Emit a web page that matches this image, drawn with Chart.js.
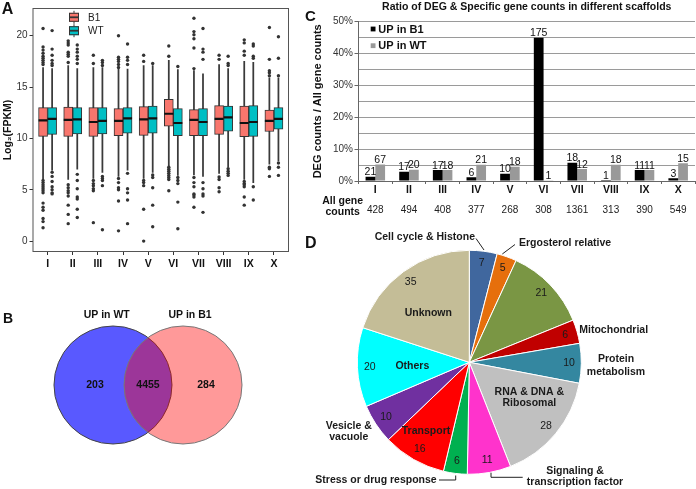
<!DOCTYPE html>
<html>
<head>
<meta charset="utf-8">
<script src="https://cdn.jsdelivr.net/npm/chart.js@4.4.1/dist/chart.umd.min.js"></script>
<style>
  body { margin: 0; background: #fff; }
  #fig { position: relative; width: 696px; height: 489px; overflow: hidden; font-family: 'Liberation Sans', Arial, sans-serif; }
  #fig canvas { position: absolute; }
  .tag { position: absolute; font-weight: bold; line-height: 1; color: #111; }
</style>
</head>
<body>
<div id="fig">
  <canvas id="boxChart" width="300" height="276" style="left:0;top:0"></canvas>
  <canvas id="vennChart" width="300" height="199" style="left:0;top:290px"></canvas>
  <canvas id="degChart" width="391" height="222" style="left:305px;top:0"></canvas>
  <canvas id="pieChart" width="396" height="259" style="left:300px;top:230px"></canvas>
  <div class="tag" style="left:1.7px;top:1.2px;font-size:16px">A</div>
  <div class="tag" style="left:3px;top:311px;font-size:14px">B</div>
  <div class="tag" style="left:305px;top:8px;font-size:15px">C</div>
  <div class="tag" style="left:305px;top:234.6px;font-size:16px">D</div>
</div>
<script>
const FONT = "'Liberation Sans', Arial, sans-serif";
Chart.defaults.font.family = FONT;
Chart.defaults.color = '#222';
Chart.defaults.animation = false;
Chart.defaults.events = [];
Chart.defaults.layout.autoPadding = false;
Chart.defaults.plugins.legend.display = false;
Chart.defaults.plugins.tooltip.enabled = false;

const scaffolds = ['I', 'II', 'III', 'IV', 'V', 'VI', 'VII', 'VIII', 'IX', 'X'];
const groups = ['B1', 'WT'];

// A: log2(FPKM) box statistics per scaffold
const b1Low    = [6.0, 6.0, 6.1, 6.3, 6.1, 7.3, 6.45, 6.6, 6.0, 7.5];
const b1Q1     = [10.2, 10.2, 10.2, 10.26, 10.3, 11.2, 10.26, 10.4, 10.16, 10.67];
const b1Median = [11.76, 11.8, 11.6, 11.7, 11.86, 12.4, 11.8, 11.9, 11.5, 11.7];
const b1Q3     = [13.0, 13.05, 13.0, 12.9, 13.1, 13.8, 12.8, 13.2, 13.14, 12.76];
const b1High   = [16.9, 17.1, 16.9, 16.8, 17.1, 17.6, 16.6, 17.2, 17.5, 15.9];
const b1Outliers = [
  [20.7, 18.9, 18.6, 18.3, 18.0, 17.8, 17.6, 17.4, 17.2, 5.9, 5.7, 5.5, 5.3, 5.1, 4.9, 4.7, 3.7, 3.3, 3.0, 2.2, 1.9, 1.3],
  [19.5, 19.3, 19.1, 18.4, 18.2, 18.0, 17.4, 5.5, 5.2, 4.9, 4.7, 4.4, 3.5, 2.6, 1.7],
  [18.1, 17.3, 5.9, 5.6, 5.4, 5.1, 4.9, 1.8],
  [20.0, 17.9, 17.7, 17.5, 17.2, 16.9, 6.1, 5.7, 5.2, 5.0, 3.9, 1.0],
  [18.1, 17.5, 5.9, 5.7, 5.4, 3.1, 0.0],
  [19.0, 18.0, 7.2, 7.0, 6.8, 6.6, 6.4, 6.2, 6.0, 4.9],
  [21.7, 20.4, 20.1, 19.7, 18.8, 16.8, 6.2, 5.7, 5.3, 4.6, 4.5, 4.3, 3.3],
  [18.1, 17.7, 6.25, 6.0, 5.2, 4.8],
  [19.6, 19.3, 18.5, 18.1, 5.8, 5.6, 5.5, 5.3, 4.3, 3.5],
  [20.8, 17.7, 16.6, 16.4, 16.1, 7.2, 7.05, 6.3]
];
const wtLow    = [6.9, 7.0, 6.7, 6.9, 6.7, 6.4, 6.3, 7.2, 5.7, 7.8];
const wtQ1     = [10.4, 10.45, 10.45, 10.5, 10.5, 10.26, 10.26, 10.7, 10.2, 10.9];
const wtMedian = [11.9, 11.86, 11.7, 11.96, 11.96, 11.5, 11.6, 12.05, 11.6, 11.9];
const wtQ3     = [13.0, 13.0, 13.0, 13.0, 13.14, 12.9, 12.9, 13.14, 13.2, 13.0];
const wtHigh   = [16.8, 16.8, 16.9, 16.75, 17.1, 16.7, 16.3, 16.8, 17.4, 15.9];
const wtOutliers = [
  [20.5, 18.7, 18.1, 17.6, 17.3, 17.1, 6.7, 6.3, 5.8, 5.3, 5.0, 4.7, 4.6],
  [19.1, 18.7, 18.4, 18.0, 17.7, 17.3, 6.5, 5.9, 5.1, 4.3, 4.1, 3.1, 2.3],
  [17.6, 17.4, 17.1, 6.3, 6.1, 5.9, 5.4, 1.1],
  [19.2, 17.9, 17.6, 17.2, 6.6, 5.1, 4.7, 4.0, 1.7],
  [17.3, 6.45, 6.2, 5.2, 3.5, 1.4],
  [17.0, 6.2, 5.9, 5.6, 3.8, 1.2],
  [20.7, 18.7, 18.4, 17.7, 5.7, 5.1, 4.6, 4.4, 2.8],
  [18.0, 17.3, 17.1, 7.05, 6.8, 6.6, 6.4],
  [19.2, 19.0, 18.0, 17.8, 5.3, 4.0],
  [19.9, 17.8, 16.1, 7.6, 7.2, 6.4]
];
const fpkmTicks = [0, 5, 10, 15, 20];

// B: venn
const vennSets = ['UP in WT', 'UP in B1'];
const vennCounts = [203, 4455, 284]; // WT only, shared, B1 only

// C: DEG ratio per scaffold (percent) and counts
const degRatioB1 = [1.37, 2.9, 3.45, 1.15, 2.25, 45.0, 5.7, 0.3, 3.45, 0.85];
const degRatioWT = [5.15, 3.5, 3.45, 5.1, 4.45, 0.2, 3.75, 5.1, 3.45, 5.6];
const degCountB1 = [21, 17, 17, 6, 10, 175, 18, 1, 11, 3];
const degCountWT = [67, 20, 18, 21, 18, 1, 12, 18, 11, 15];
const allGeneCounts = [428, 494, 408, 377, 268, 308, 1361, 313, 390, 549];
const ratioTicks = [0, 5, 10, 15, 20, 25, 30, 35, 40, 45, 50];

// D: functional categories of the 175 genes
const categories = ['Cell cycle & Histone', 'Ergosterol relative', '', 'Mitochondrial', 'Protein\nmetabolism',
  'RNA & DNA &\nRibosomal', 'Signaling &\ntranscription factor', 'Stress or drug response', 'Transport',
  'Vesicle &\nvacuole', 'Others', 'Unknown'];
const categoryCounts = [7, 5, 21, 6, 10, 28, 11, 6, 16, 10, 20, 35];
const sliceColors = ['#40679e', '#e66f0c', '#7a9644', '#c00000', '#3487a0', '#c0c0c0', '#ff33cc',
  '#00b050', '#ff0000', '#7030a0', '#00ffff', '#c4bd97'];

// ---------- A: boxplots ----------
const boxColors = ['#F8766D', '#00BFC4'];
const dodge = [-0.18, 0.18];
const boxStats = [
  {low: b1Low, q1: b1Q1, med: b1Median, q3: b1Q3, high: b1High, out: b1Outliers},
  {low: wtLow, q1: wtQ1, med: wtMedian, q3: wtQ3, high: wtHigh, out: wtOutliers}
];
const boxDatasets = [];
boxStats.forEach((s, g) => {
  const xs = scaffolds.map((_, i) => i + 1 + dodge[g]);
  boxDatasets.push({type: 'bar', data: xs.map((x, i) => ({x, y: [s.low[i], s.high[i]]})),
    backgroundColor: '#3a3a3a', maxBarThickness: 1.1, barPercentage: 1, categoryPercentage: 1,
    grouped: false, order: 4});
  boxDatasets.push({type: 'bar', data: xs.map((x, i) => ({x, y: [s.q1[i], s.q3[i]]})),
    backgroundColor: boxColors[g], borderColor: '#333', borderWidth: 1, borderSkipped: false,
    maxBarThickness: 9, barPercentage: 1, categoryPercentage: 1, grouped: false, order: 3});
  boxDatasets.push({type: 'scatter', data: xs.map((x, i) => ({x, y: s.med[i]})),
    pointStyle: 'line', pointRadius: 4.5, pointBorderColor: '#111', pointBorderWidth: 2.2, order: 2});
  boxDatasets.push({type: 'scatter', data: xs.flatMap((x, i) => s.out[i].map(y => ({x, y}))),
    pointRadius: 1.7, pointBackgroundColor: '#333', pointBorderWidth: 0, order: 1});
});

const boxDecor = {
  id: 'boxDecor',
  afterDraw(chart) {
    const {ctx, chartArea: a} = chart;
    ctx.save();
    ctx.strokeStyle = '#555';
    ctx.lineWidth = 1;
    ctx.strokeRect(a.left + 0.5, a.top + 0.5, a.width - 1, a.height - 1);
    groups.forEach((g, i) => {
      const x = a.left + 36.5, y = a.top + 9.3 + i * 13.4;
      ctx.strokeStyle = '#333';
      ctx.lineWidth = 1;
      ctx.beginPath(); ctx.moveTo(x + 5, y - 6.5); ctx.lineTo(x + 5, y + 6.5); ctx.stroke();
      ctx.fillStyle = boxColors[i];
      ctx.fillRect(x, y - 4.5, 10, 9);
      ctx.strokeRect(x + 0.5, y - 4, 9, 8);
      ctx.lineWidth = 1.8;
      ctx.beginPath(); ctx.moveTo(x, y); ctx.lineTo(x + 10, y); ctx.stroke();
      ctx.fillStyle = '#222';
      ctx.font = '10px ' + FONT;
      ctx.textBaseline = 'middle';
      ctx.fillText(g, x + 19, y + 0.5);
    });
    ctx.restore();
  }
};

new Chart(document.getElementById('boxChart'), {
  type: 'scatter',
  data: {datasets: boxDatasets},
  options: {
    responsive: false,
    layout: {padding: {top: 4, right: 11, left: 0, bottom: 0}},
    scales: {
      x: {
        type: 'linear', min: 0.4, max: 10.6, offset: false,
        afterFit: s => { s.height = 24; },
        afterBuildTicks: s => { s.ticks = scaffolds.map((_, i) => ({value: i + 1})); },
        ticks: {callback: v => scaffolds[v - 1], font: {size: 10.5, weight: 'bold'}, color: '#111',
          padding: 2.7, maxRotation: 0, autoSkip: false},
        grid: {offset: false, drawOnChartArea: false, tickLength: 3, color: '#333'},
        border: {display: false}
      },
      y: {
        min: -1.06, max: 22.7,
        afterFit: s => { s.width = 32.5; },
        afterBuildTicks: s => { s.ticks = fpkmTicks.map(v => ({value: v})); },
        ticks: {font: {size: 10}, color: '#333', padding: 2},
        grid: {drawOnChartArea: false, tickLength: 3, color: '#333'},
        border: {display: false},
        title: {display: true, text: 'Log₂(FPKM)', font: {size: 10.5, weight: 'bold'}, color: '#111',
          padding: {top: 1.5, bottom: 0}}
      }
    }
  },
  plugins: [boxDecor]
});

// ---------- B: venn ----------
const vennLabels = {
  id: 'vennLabels',
  afterDatasetsDraw(chart) {
    const {ctx} = chart;
    const pts = chart.getDatasetMeta(0).data;
    const r = chart.data.datasets[0].pointRadius;
    ctx.save();
    ctx.font = 'bold 10.5px ' + FONT;
    ctx.fillStyle = '#111';
    ctx.textAlign = 'center';
    ctx.textBaseline = 'middle';
    ctx.fillText(vennSets[0], pts[0].x - 6.3, pts[0].y - r - 11);
    ctx.fillText(vennSets[1], pts[1].x + 7, pts[1].y - r - 11);
    ctx.fillText(vennCounts[0], pts[0].x - 18, pts[0].y);
    ctx.fillText(vennCounts[1], (pts[0].x + pts[1].x) / 2, pts[0].y);
    ctx.fillText(vennCounts[2], pts[1].x + 23, pts[1].y);
    ctx.restore();
  }
};

new Chart(document.getElementById('vennChart'), {
  type: 'scatter',
  data: {datasets: [{
    data: vennSets.map((_, i) => ({x: i, y: 0})),
    pointRadius: 59,
    pointBackgroundColor: ['rgba(0,0,255,0.65)', 'rgba(255,0,0,0.4)'],
    pointBorderColor: ['#444', '#777'],
    pointBorderWidth: 1,
    clip: false
  }]},
  options: {
    responsive: false,
    layout: {padding: {left: 0, right: 4, top: 0, bottom: 9}},
    scales: {x: {display: false, min: -1.614, max: 2.614}, y: {display: false, min: -1, max: 1}}
  },
  plugins: [vennLabels]
});

// ---------- C: DEG ratio bars ----------
const degDecor = {
  id: 'degDecor',
  afterDraw(chart) {
    const {ctx, chartArea: a} = chart;
    ctx.save();
    ctx.fillStyle = '#111';
    ctx.textAlign = 'center';
    ctx.textBaseline = 'alphabetic';
    ctx.font = '10.5px ' + FONT;
    chart.data.datasets.forEach((ds, d) => {
      chart.getDatasetMeta(d).data.forEach((bar, i) => ctx.fillText(ds.counts[i], bar.x, bar.y - 1.5));
    });
    ctx.textBaseline = 'middle';
    ctx.font = 'bold 10.5px ' + FONT;
    ctx.fillText('Ratio of DEG & Specific gene counts in different scaffolds', (a.left + a.right) / 2, 6.7);
    const s2 = chart.scales.x2;
    ctx.fillText('All gene', 37.7, s2.top + 6.5);
    ctx.fillText('counts', 37.7, s2.top + 17);
    ctx.textAlign = 'left';
    ctx.font = 'bold 11px ' + FONT;
    chart.data.datasets.forEach((ds, d) => {
      const y = a.top + 7.3 + d * 16.7;
      ctx.fillStyle = ds.backgroundColor;
      ctx.fillRect(a.left + 12.2, y - 2.4, 4.8, 4.8);
      ctx.fillStyle = '#111';
      ctx.fillText(ds.label, a.left + 19.8, y + 0.5);
    });
    ctx.restore();
  }
};

new Chart(document.getElementById('degChart'), {
  type: 'bar',
  data: {
    labels: scaffolds,
    datasets: [
      {label: 'UP in B1', data: degRatioB1, backgroundColor: '#000', counts: degCountB1},
      {label: 'UP in WT', data: degRatioWT, backgroundColor: '#999', counts: degCountWT}
    ]
  },
  options: {
    responsive: false,
    layout: {padding: {top: 21.7, right: 1, left: 0, bottom: 0}},
    datasets: {bar: {categoryPercentage: 0.58, barPercentage: 1}},
    scales: {
      x: {
        weight: 0,
        afterFit: s => { s.height = 14; },
        ticks: {font: {size: 10.5, weight: 'bold'}, color: '#111', padding: 0},
        grid: {offset: true, drawOnChartArea: false, tickLength: 3, color: '#666'},
        border: {color: '#666'}
      },
      x2: {
        type: 'category', position: 'bottom', weight: 1, offset: true,
        labels: allGeneCounts.map(String),
        afterFit: s => { s.height = 27; },
        ticks: {font: {size: 10}, color: '#222', padding: 1},
        grid: {display: false},
        border: {display: false}
      },
      y: {
        min: 0, max: 50,
        afterFit: s => { s.width = 53.5; },
        afterBuildTicks: s => { s.ticks = ratioTicks.map(v => ({value: v})); },
        ticks: {callback: v => (v % 10 === 0 ? v + '%' : ''), font: {size: 10}, color: '#333', padding: 1.5},
        grid: {color: '#9a9a9a', tickLength: 4,
          tickColor: c => (c.tick && c.tick.value % 10 === 0 ? '#666' : 'rgba(0,0,0,0)')},
        border: {color: '#666'},
        title: {display: true, text: 'DEG counts / All gene counts', font: {size: 11, weight: 'bold'},
          color: '#111', padding: {top: 6.4, bottom: 0}}
      }
    }
  },
  plugins: [degDecor]
});

// ---------- D: pie ----------
const pieNameLayout = [
  {dx: 5.7, dy: -125, align: 'right', leader: [[6.7, -123.8], [14.7, -112.3]]},
  {dx: 49.7, dy: -119.6, align: 'left', leader: [[45.7, -117.8], [33, -108.3]]},
  null,
  {dx: 110, dy: -32.3, align: 'left'},
  {dx: 146.7, dy: -3, align: 'center', lh: 12.4},
  {dx: 60, dy: 30, align: 'center', lh: 10.4},
  {dx: 105.7, dy: 108.4, align: 'center', lh: 11.6, leader: [[21.7, 110.4], [21.7, 115], [53.4, 115]]},
  {dx: -32.6, dy: 117.7, align: 'right', leader: [[-30.3, 117.7], [-13.6, 117.7], [-13.6, 113.2]]},
  {dx: -43.3, dy: 68.4, align: 'center'},
  {dx: -120.5, dy: 63.7, align: 'center', lh: 10.7},
  {dx: -57, dy: 3.7, align: 'center'},
  {dx: -41, dy: -49, align: 'center'}
];

const pieLabels = {
  id: 'pieLabels',
  afterDatasetsDraw(chart) {
    const {ctx} = chart;
    const arcs = chart.getDatasetMeta(0).data;
    const cx = arcs[0].x, cy = arcs[0].y, r = arcs[0].outerRadius;
    ctx.save();
    ctx.textBaseline = 'middle';
    ctx.textAlign = 'center';
    ctx.fillStyle = '#1a1a1a';
    ctx.font = '10.5px ' + FONT;
    arcs.forEach((arc, i) => {
      const mid = (arc.startAngle + arc.endAngle) / 2;
      ctx.fillText(categoryCounts[i], cx + Math.cos(mid) * r * 0.89, cy + Math.sin(mid) * r * 0.89);
    });
    ctx.font = 'bold 10.5px ' + FONT;
    ctx.strokeStyle = '#222';
    ctx.lineWidth = 1;
    pieNameLayout.forEach((p, i) => {
      if (!p) return;
      ctx.textAlign = p.align;
      categories[i].split('\n').forEach((line, k) => {
        ctx.fillText(line, cx + p.dx, cy + p.dy + k * (p.lh || 0));
      });
      if (p.leader) {
        ctx.beginPath();
        p.leader.forEach(([lx, ly], k) => (k ? ctx.lineTo(cx + lx, cy + ly) : ctx.moveTo(cx + lx, cy + ly)));
        ctx.stroke();
      }
    });
    ctx.restore();
  }
};

new Chart(document.getElementById('pieChart'), {
  type: 'pie',
  data: {
    labels: categories,
    datasets: [{data: categoryCounts, backgroundColor: sliceColors, borderColor: '#fff', borderWidth: 1}]
  },
  options: {
    responsive: false,
    radius: 112,
    layout: {padding: {left: 57.3, top: 20.3, right: 114.7, bottom: 14.7}}
  },
  plugins: [pieLabels]
});
</script>
</body>
</html>
